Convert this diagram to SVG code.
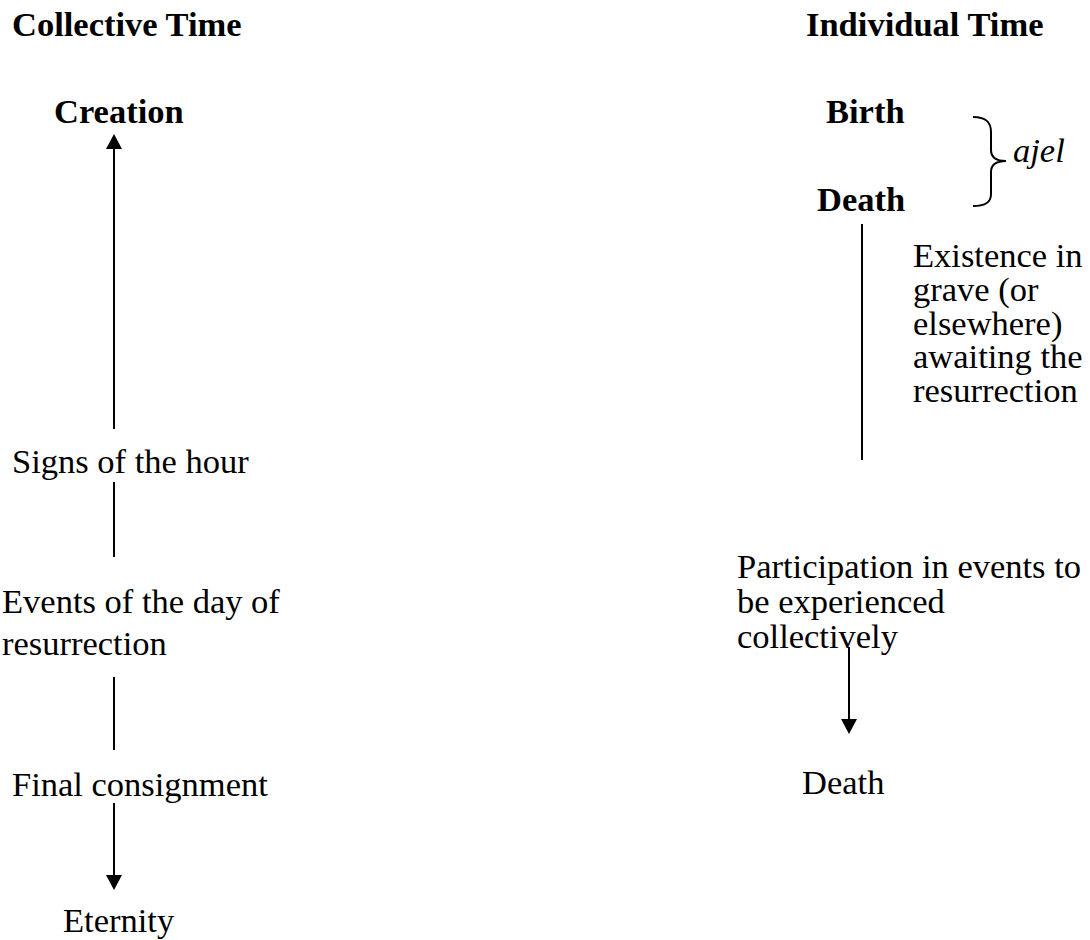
<svg xmlns="http://www.w3.org/2000/svg" width="1090" height="940" viewBox="0 0 1090 940">
<style>
text{font-family:"Liberation Serif","Times New Roman",serif;font-size:34.5px;fill:#000}
.b{font-weight:bold}
.i{font-style:italic}
.ln{stroke:#000;stroke-width:2;fill:none}
</style>
<defs>
<marker id="ah" viewBox="0 0 15 16" refX="0" refY="8" markerWidth="15" markerHeight="16" markerUnits="userSpaceOnUse" orient="auto">
<path d="M0,0 L15,8 L0,16 z" fill="#000"/>
</marker>
</defs>
<rect width="1090" height="940" fill="#fff"/>
<g id="collective-title"><text class="b" x="12" y="36">Collective Time</text></g>
<g id="individual-title"><text class="b" x="806" y="36">Individual Time</text></g>
<g id="creation"><text class="b" x="54" y="123">Creation</text></g>
<g id="signs"><text x="12" y="473">Signs of the hour</text></g>
<g id="events"><text x="2" y="613">Events of the day of<tspan x="2" dy="42">resurrection</tspan></text></g>
<g id="final"><text x="12" y="796">Final consignment</text></g>
<g id="eternity"><text x="63" y="932">Eternity</text></g>
<g id="birth"><text class="b" x="826" y="123">Birth</text></g>
<g id="death-bold"><text class="b" x="817" y="211">Death</text></g>
<g id="ajel"><text class="i" x="1013" y="162">ajel</text></g>
<g id="existence">
<text x="913" y="267">Existence in<tspan x="913" dy="33.8">grave (or</tspan><tspan x="913" dy="33.8">elsewhere)</tspan><tspan x="913" dy="33.8">awaiting the</tspan><tspan x="913" dy="33.8">resurrection</tspan></text>
</g>
<g id="participation">
<text x="737" y="578">Participation in events to<tspan x="737" dy="35">be experienced</tspan><tspan x="737" dy="34.5">collectively</tspan></text>
</g>
<g id="death"><text x="802" y="794">Death</text></g>
<g id="connectors">
<line class="ln" x1="114" y1="429" x2="114" y2="149" marker-end="url(#ah)"/>
<line class="ln" x1="114" y1="482" x2="114" y2="557"/>
<line class="ln" x1="114" y1="677" x2="114" y2="750"/>
<line class="ln" x1="114" y1="803" x2="114" y2="875" marker-end="url(#ah)"/>
<line class="ln" x1="862" y1="224" x2="862" y2="460"/>
<line class="ln" x1="849" y1="647" x2="849" y2="719" marker-end="url(#ah)"/>
<path class="ln" d="M973,117 C986,117 991,122 991,132 L991,150 C991,157 996,161 1006,161 C996,161 991,165 991,172 L991,194 C991,202 986,206 973,206"/>
</g>
</svg>
